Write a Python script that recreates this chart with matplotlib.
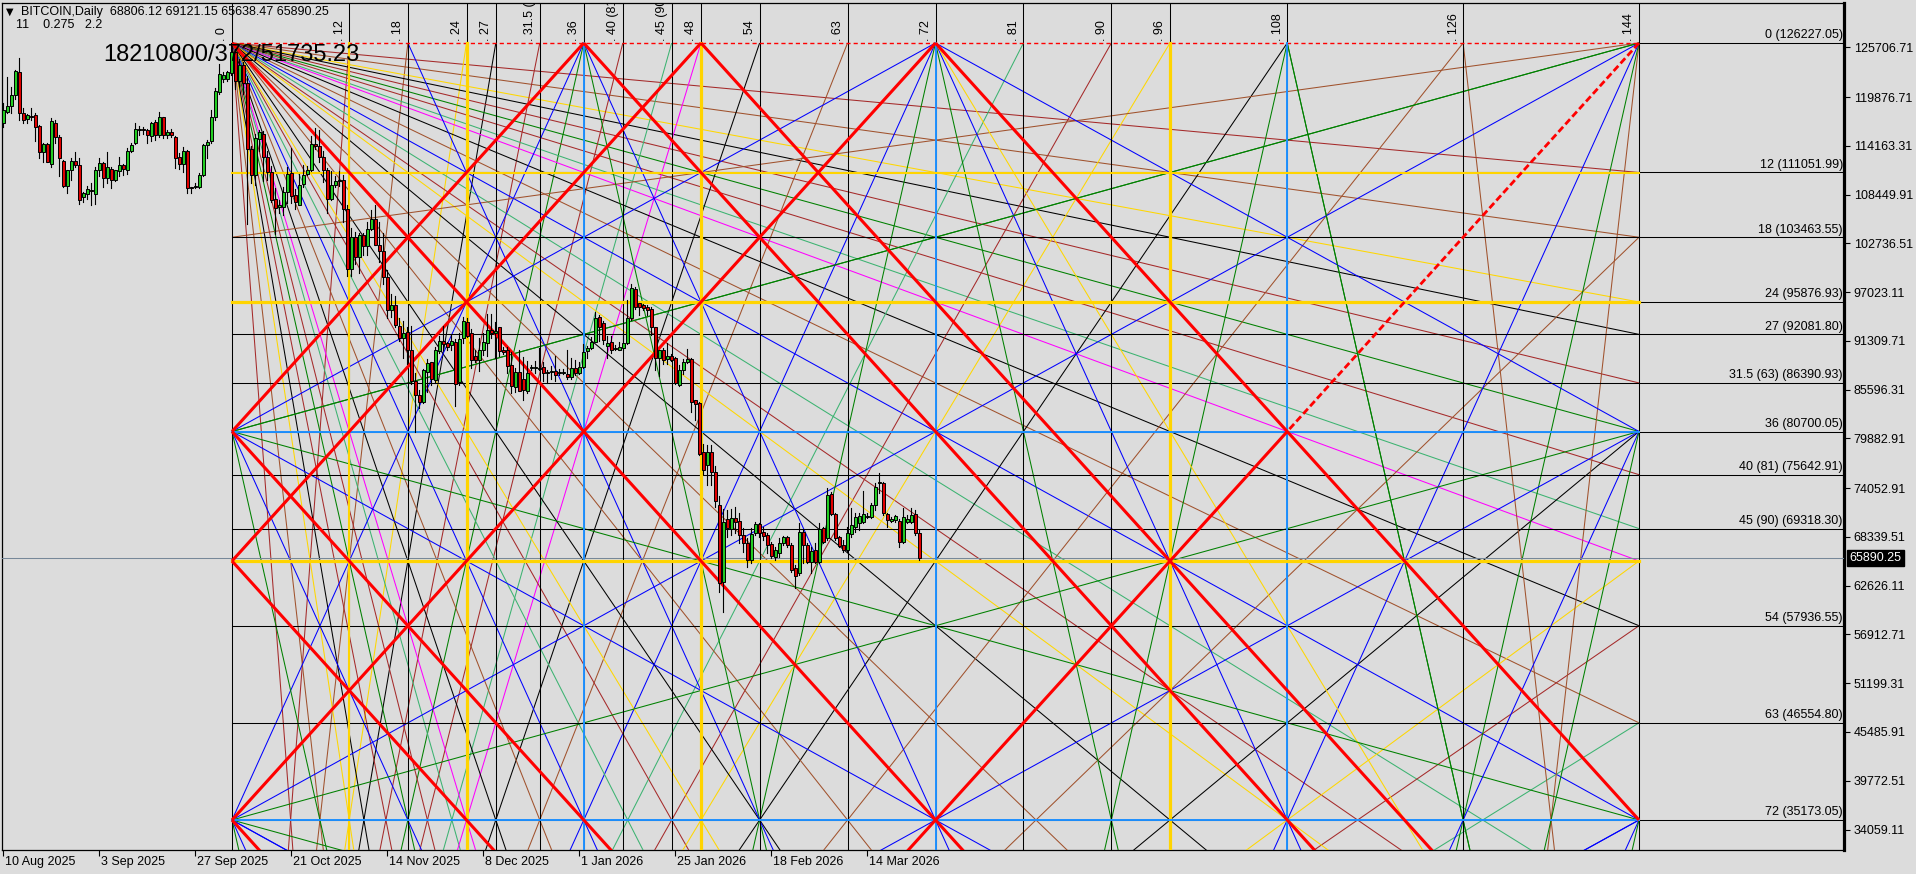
import matplotlib
matplotlib.use("Agg")
import matplotlib.pyplot as plt
import matplotlib.transforms as mtrans

# ---- daily candles from 10 Aug 2025 (thousand USD) ----
opens_k = [116.8, 118.1, 118.8, 120.1, 122.8, 118.0, 117.3, 117.7, 117.8, 116.5,
           113.5, 114.4, 112.0, 116.8, 115.2, 112.4, 109.5, 111.3, 112.4, 111.9,
           108.2, 108.5, 109.0, 108.5, 111.3, 112.2, 110.4, 111.5, 110.2, 111.2,
           111.9, 111.4, 113.6, 114.5, 116.0, 116.1, 116.0, 115.3, 117.0, 115.4,
           117.5, 115.4, 115.8, 115.2, 112.9, 112.0, 113.6, 109.3, 109.3, 109.4,
           110.8, 114.3, 114.7, 117.5, 120.5, 122.0, 122.0, 122.7, 125.2, 121.8,
           123.6, 121.5, 113.8, 110.7, 115.0, 115.6, 112.9, 111.1, 107.9, 107.0,
           107.0, 108.8, 111.0, 108.4, 107.3, 109.7, 110.9, 111.4, 114.4, 114.1,
           112.9, 111.3, 107.9, 109.6, 110.0, 110.2, 106.8, 99.8, 103.5, 101.2,
           103.7, 102.4, 104.4, 105.6, 102.6, 101.8, 98.8, 94.9, 95.5, 93.1,
           91.7, 92.4, 90.3, 86.6, 85.0, 84.2, 87.7, 88.9, 86.7, 90.1,
           91.3, 91.1, 90.8, 91.2, 86.5, 91.7, 93.5, 92.2, 89.5, 89.1,
           90.2, 91.1, 92.6, 92.3, 92.9, 90.2, 90.2, 88.5, 85.9, 87.7,
           86.9, 85.4, 88.1, 88.1, 88.0, 88.2, 87.6, 87.7, 87.8, 87.5,
           87.5, 87.4, 87.1, 88.1, 87.5, 88.2, 90.1, 90.5, 91.2, 94.1,
           93.4, 90.7, 91.2, 90.4, 90.3, 90.5, 91.1, 94.0, 97.4, 95.7,
           95.5, 95.3, 95.1, 92.9, 89.3, 90.2, 89.2, 89.5, 89.3, 86.2,
           87.9, 88.9, 89.2, 84.4, 84.0, 78.3, 76.8, 78.3, 76.0, 72.1,
           63.1, 70.40, 69.23, 70.52, 70.24, 68.56, 67.66, 65.63, 68.76, 69.81,
           68.95, 68.56, 67.51, 66.02, 66.49, 67.59, 68.29, 67.39, 64.66, 64.07,
           68.88, 67.39, 65.44, 66.80, 65.44, 69.34, 68.17, 73.37, 70.99, 68.37,
           67.39, 66.80, 68.68, 69.54, 70.01, 70.13, 70.71, 70.71, 72.08, 74.62,
           74.70, 70.99, 70.24, 70.32, 70.24, 67.78, 70.05, 70.13, 70.99, 68.806]
highs_k = [119.2, 122.3, 121.1, 123.1, 124.5, 118.6, 117.9, 118.6, 118.0, 116.6,
           114.5, 114.5, 117.4, 117.2, 115.4, 112.5, 111.3, 112.7, 113.4, 112.7,
           108.8, 109.5, 109.8, 111.7, 112.7, 112.3, 113.4, 111.7, 111.4, 112.9,
           112.1, 113.9, 114.5, 116.9, 116.5, 116.4, 116.2, 117.0, 117.2, 118.1,
           117.6, 116.0, 116.1, 115.3, 113.3, 114.0, 113.7, 109.4, 109.8, 111.0,
           114.4, 114.9, 118.4, 120.9, 123.8, 122.8, 122.9, 126.2, 125.5, 124.3,
           124.0, 122.4, 114.2, 115.6, 116.0, 115.9, 113.6, 111.8, 109.2, 107.8,
           109.4, 111.7, 113.9, 109.1, 110.9, 111.9, 111.8, 115.3, 116.3, 116.0,
           113.6, 111.6, 111.2, 110.6, 111.2, 110.8, 107.2, 104.5, 104.1, 104.0,
           104.0, 105.2, 106.6, 107.3, 105.3, 104.0, 99.6, 96.8, 96.6, 94.0,
           93.7, 92.9, 93.1, 87.5, 85.6, 88.0, 89.2, 88.9, 90.6, 91.9,
           93.1, 91.2, 92.0, 91.5, 92.3, 94.1, 94.0, 92.7, 90.2, 91.7,
           92.3, 94.5, 94.5, 93.5, 92.9, 90.6, 90.6, 90.0, 88.1, 90.3,
           89.4, 89.0, 88.5, 89.0, 90.5, 88.9, 87.9, 88.4, 89.5, 88.0,
           88.0, 90.3, 89.3, 89.1, 88.8, 90.9, 90.7, 91.8, 94.7, 94.4,
           93.7, 91.9, 91.9, 90.8, 91.2, 92.3, 96.1, 98.0, 97.6, 95.8,
           95.6, 95.5, 95.3, 92.9, 90.3, 90.5, 91.1, 89.8, 89.4, 88.5,
           89.2, 90.4, 89.3, 84.4, 84.2, 79.2, 79.1, 79.1, 76.6, 73.2,
           71.6, 71.49, 71.57, 71.88, 71.10, 69.34, 68.17, 69.34, 70.13, 70.01,
           69.50, 68.76, 67.78, 67.20, 68.17, 68.45, 68.45, 67.59, 65.05, 69.93,
           69.15, 67.59, 67.20, 67.59, 69.93, 69.54, 74.03, 73.64, 71.10, 68.45,
           67.98, 69.54, 71.69, 71.10, 71.10, 73.76, 71.10, 72.27, 74.62, 75.87,
           74.81, 71.10, 70.71, 70.91, 70.40, 71.69, 70.91, 71.69, 71.49, 69.121]
lows_k = [116.4, 118.0, 118.0, 119.7, 117.2, 116.8, 116.9, 117.2, 114.7, 112.7,
          112.3, 112.3, 111.7, 114.5, 110.6, 109.4, 108.6, 110.2, 111.7, 107.4,
          107.6, 108.0, 107.2, 107.4, 110.6, 109.4, 109.8, 109.2, 110.1, 110.6,
          110.8, 110.9, 113.5, 114.4, 115.4, 115.6, 114.5, 114.7, 114.9, 115.2,
          115.1, 115.1, 115.2, 111.6, 111.5, 111.1, 108.6, 108.6, 109.2, 109.2,
          110.6, 112.7, 114.5, 117.2, 120.3, 121.7, 121.8, 122.5, 120.8, 121.2,
          120.3, 105.0, 109.8, 109.6, 113.6, 110.0, 110.2, 107.6, 103.9, 106.3,
          106.1, 107.5, 107.5, 106.8, 107.2, 109.3, 110.8, 111.2, 113.8, 112.3,
          109.9, 106.3, 107.8, 109.4, 109.5, 105.3, 98.9, 98.9, 100.3, 99.3,
          101.4, 101.4, 104.3, 102.5, 100.6, 98.0, 94.0, 94.1, 93.0, 91.3,
          89.3, 88.6, 86.3, 80.6, 83.5, 84.0, 85.3, 86.2, 86.4, 89.9,
          90.2, 90.2, 90.3, 83.7, 86.2, 91.1, 91.8, 88.1, 88.9, 87.8,
          89.7, 89.6, 91.7, 89.3, 89.5, 89.8, 87.6, 85.2, 85.3, 85.4,
          84.4, 85.2, 87.9, 87.6, 87.9, 86.6, 86.4, 86.9, 86.6, 87.3,
          87.4, 86.8, 86.9, 87.3, 87.4, 88.1, 89.3, 90.4, 91.2, 91.3,
          90.9, 89.3, 89.9, 90.2, 90.2, 90.2, 91.0, 93.8, 95.0, 94.3,
          94.9, 94.4, 92.0, 87.9, 87.2, 88.6, 88.6, 89.0, 86.3, 86.0,
          87.4, 88.7, 83.0, 82.0, 77.9, 75.7, 74.4, 74.4, 71.9, 61.9,
          59.6, 68.37, 68.56, 68.76, 67.59, 66.61, 64.85, 65.32, 68.56, 68.37,
          68.00, 66.41, 65.83, 65.63, 66.02, 67.39, 67.20, 64.27, 62.31, 63.87,
          65.24, 65.24, 64.07, 65.24, 65.24, 67.59, 67.98, 70.91, 67.98, 67.20,
          66.61, 66.61, 68.37, 68.95, 69.15, 69.93, 70.52, 70.52, 71.49, 73.45,
          70.91, 69.54, 70.13, 70.13, 67.20, 67.59, 69.93, 69.93, 68.56, 65.638]
closes_k = [118.4, 118.8, 120.1, 122.9, 118.0, 117.2, 117.8, 117.6, 116.4, 113.5,
            114.4, 112.3, 117.1, 115.2, 112.8, 109.5, 111.3, 112.4, 111.9, 107.8,
            108.6, 109.1, 108.9, 111.4, 112.2, 110.4, 111.7, 110.2, 111.3, 111.9,
            111.5, 113.6, 114.3, 116.2, 116.1, 116.0, 115.4, 116.8, 115.5, 117.5,
            115.4, 115.8, 115.4, 112.8, 112.0, 113.6, 109.2, 109.2, 109.5, 110.8,
            114.3, 114.6, 117.5, 120.6, 122.6, 122.5, 122.8, 125.2, 121.8, 123.6,
            121.5, 113.8, 110.7, 115.1, 115.8, 112.9, 111.1, 107.8, 106.9, 107.2,
            108.8, 110.9, 108.3, 107.6, 109.6, 110.8, 111.4, 114.4, 114.1, 112.9,
            111.3, 107.9, 109.6, 110.0, 110.2, 106.8, 99.8, 103.5, 101.2, 103.7,
            102.4, 104.4, 105.6, 102.6, 101.8, 98.8, 94.9, 95.5, 93.2, 91.7,
            92.3, 90.3, 86.6, 85.0, 84.2, 87.9, 88.7, 86.9, 90.2, 91.3,
            90.9, 90.6, 91.3, 86.3, 91.5, 93.6, 91.9, 89.1, 89.1, 90.2,
            91.2, 92.6, 92.3, 92.5, 90.1, 90.0, 88.4, 86.0, 87.7, 85.4,
            85.6, 87.5, 88.1, 88.1, 88.0, 87.5, 87.6, 87.7, 87.3, 87.5,
            87.5, 87.1, 88.1, 87.5, 88.2, 90.0, 90.5, 91.2, 94.0, 93.0,
            91.4, 91.1, 90.2, 90.4, 90.6, 91.1, 94.0, 97.5, 95.3, 95.3,
            95.2, 94.9, 93.0, 89.3, 90.2, 89.1, 89.5, 89.1, 86.4, 87.9,
            88.9, 89.2, 84.2, 83.9, 78.1, 76.2, 78.3, 76.0, 72.5, 62.9,
            70.1, 69.34, 70.52, 70.13, 68.56, 67.59, 65.63, 68.68, 69.81, 68.76,
            68.45, 67.39, 66.10, 66.80, 67.59, 68.29, 67.39, 64.46, 63.76, 68.88,
            67.39, 65.44, 66.73, 65.44, 69.23, 67.78, 73.25, 71.02, 68.17, 67.31,
            66.80, 68.76, 69.74, 70.63, 70.79, 70.99, 70.79, 72.08, 74.23, 74.81,
            71.10, 70.32, 70.44, 70.79, 67.78, 70.63, 70.44, 70.91, 68.76, 65.890]

date_ticks = [0, 24, 48, 72, 96, 120, 144, 168, 192, 216]
date_labels = ["10 Aug 2025", "3 Sep 2025", "27 Sep 2025", "21 Oct 2025", "14 Nov 2025",
               "8 Dec 2025", "1 Jan 2026", "25 Jan 2026", "18 Feb 2026", "14 Mar 2026"]
price_ticks = [125706.71, 119876.71, 114163.31, 108449.91, 102736.51, 97023.11, 91309.71,
               85596.31, 79882.91, 74052.91, 68339.51, 62626.11, 56912.71, 51199.31,
               45485.91, 39772.51, 34059.11]
last_price = 65890.25

# Gann square: price levels (units) and their prices
level_units = [0, 12, 18, 24, 27, 31.5, 36, 40, 45, 54, 63, 72]
level_names = ["0", "12", "18", "24", "27", "31.5 (63)", "36", "40 (81)", "45 (90)", "54", "63", "72"]
level_prices = [126227.05, 111051.99, 103463.55, 95876.93, 92081.80, 86390.93, 80700.05,
                75642.91, 69318.30, 57936.55, 46554.80, 35173.05]
time_units = [0, 12, 18, 24, 27, 31.5, 36, 40, 45, 48, 54, 63, 72, 81, 90, 96, 108, 126, 144]
time_names = ["0", "12", "18", "24", "27", "31.5 (63)", "36", "40 (81)", "45 (90)", "48", "54",
              "63", "72", "81", "90", "96", "108", "126", "144"]

# ---- geometry (pixels of the 1916x874 MT4 screenshot) ----
W, H = 1916, 874
BG = "#dcdcdc"
P0 = 126227.05
PU = (126227.05 - 35173.05) / 72.0
T0, TU = 57.25, 2.44271          # bar of time 0, bars per gann unit
PX_PRICE = 91054.0 / 777.0       # price per pixel

def gx(t):
    return T0 + TU * t

def gy(p):
    return P0 - PU * p

fig = plt.figure(figsize=(W / 100, H / 100), dpi=100, facecolor=BG)
ax = fig.add_axes([2 / W, (H - 850) / H, 1842 / W, 847 / H])
ax.set_facecolor(BG)
ax.set_xlim(-0.25, 460.25)
ax.set_ylim(P0 - 807 * PX_PRICE, P0 + 40 * PX_PRICE)

FONT = "Liberation Sans"
COL = {12: "#a52a2a", 18: "#a0522d", 24: "#ffd700", 27: "black", 31.5: "#a52a2a", 36: "#008000",
       40: "#a52a2a", 45: "#3cb371", 48: "#ff00ff", 54: "black", 63: "#a0522d", 72: "#0000ff",
       81: "#3cb371", 90: "#a52a2a", 96: "#ffd700", 108: "black", 126: "#a0522d", 144: "red"}
GOLD, DBLUE = "#ffd400", "#1e90ff"
THIN = 0.75


def ray(t0, p0, sx, slope, color, lw=THIN, ls="-", z=3, umax=1e9):
    ut = (144 - t0) if sx > 0 else t0
    if slope > 0:
        up = (160 - p0) / slope
    elif slope < 0:
        up = p0 / -slope
    else:
        up = 1e9
    u = min(ut, up, umax)
    t1, p1 = t0 + sx * u, p0 + slope * u
    ax.plot([gx(t0), gx(t1)], [gy(p0), gy(p1)], color=color, lw=lw, ls=ls, zorder=z,
            solid_capstyle="butt")


divs = [d for d in time_units if 0 < d < 144]

# full fans from the two left corners of the 144 square
for d in divs:
    ray(0, 0, 1, d / 144, COL[d])
    ray(0, 0, 1, 144 / d, COL[d])
    ray(0, 144, 1, -144 / d, COL[d])
    ray(0, 144, 1, -d / 144, COL[d])
# small fans from the two right corners
for d in [18, 36, 72]:
    ray(144, 0, -1, d / 144, COL[d])
    ray(144, 0, -1, 144 / d, COL[d])
    ray(144, 144, -1, -144 / d, COL[d])
    ray(144, 144, -1, -d / 144, COL[d])
# fans from inner nodes
for sx in (-1, 1):
    ray(72, 0, sx, 0.5, "#0000ff")
    ray(72, 0, sx, 4, "#008000")
    ray(36, 0, sx, 2, "#0000ff")
    ray(108, 0, sx, 4, "#008000")
ray(36, 0, 1, 4, "#008000")
ray(18, 0, 1, 2, "#0000ff")
ray(72, 0, 1, 1.5, "#ffd700")
for p0 in (36, 72):
    ray(0, p0, 1, 0.25, "#008000")
    ray(0, p0, 1, -0.25, "#008000")
    ray(0, p0, 1, 0.5, "#0000ff")
    ray(0, p0, 1, 2, "#0000ff")
    ray(0, p0, 1, 4, "#008000")
    ray(144, p0, -1, 0.5, "#0000ff")
    ray(144, p0, -1, 2, "#0000ff")
    ray(144, p0, -1, 4, "#008000")

# red 1x1 lattice
for t0 in (0, 36, 48, 72):
    ray(t0, 0, 1, 1, "red", lw=2.2, z=4)
for t0 in (36, 48, 72):
    ray(t0, 0, -1, 1, "red", lw=2.2, z=4)
for p0 in (36, 48, 72):
    ray(0, p0, 1, 1, "red", lw=2.2, z=4)
ray(144, 0, -1, 1, "red", lw=2.0, ls=(0, (2.5, 1.2)), z=4, umax=36)
ray(108, 36, -1, 1, "red", lw=2.2, z=4)

# vertical time lines
yb, yt = ax.get_ylim()
for t, name in zip(time_units, time_names):
    x = gx(t)
    ax.plot([x, x], [yb, yt], color="black", lw=THIN, zorder=3.5)
    if t in (12,):
        ax.plot([x, x], [yb, P0], color=GOLD, lw=1.5, zorder=3.6)
    if t in (24, 48, 96):
        ax.plot([x, x], [yb, P0], color=GOLD, lw=2.3, zorder=3.6)
    if t in (36, 72, 108):
        ax.plot([x, x], [yb, P0], color=DBLUE, lw=1.4, zorder=3.6)
    ax.text(x - 0.9, P0 + 2 * PX_PRICE, ". " + name, rotation=90, ha="right", va="bottom",
            fontsize=9, family=FONT, color="black", clip_on=True, zorder=6)

# horizontal price levels
xl, xr = gx(0), ax.get_xlim()[1]
for u, name, pr in zip(level_units, level_names, level_prices):
    if u == 0:
        ax.plot([gx(0), gx(144)], [pr, pr], color="red", lw=1.0, ls=(0, (3, 2.2)), zorder=3.5)
        ax.plot([gx(144), xr], [pr, pr], color="black", lw=THIN, zorder=3.5)
    else:
        ax.plot([xl, xr], [pr, pr], color="black", lw=THIN, zorder=3.5)
    ax.text(xr - 0.3, pr + 1.5 * PX_PRICE, "%s (%.2f)" % (name, pr),
            ha="right", va="bottom", fontsize=9, family=FONT, zorder=6)
for u, c, w in [(12, GOLD, 1.5), (24, GOLD, 2.3), (48, GOLD, 2.3), (36, DBLUE, 1.4), (72, DBLUE, 1.4)]:
    ax.plot([gx(0), gx(144)], [gy(u), gy(u)], color=c, lw=w, zorder=3.6)

# last price line
ax.axhline(last_price, color="#778899", lw=THIN, zorder=3.4)

# candles
for i in range(len(closes_k)):
    o, h, l, c = opens_k[i] * 1000, highs_k[i] * 1000, lows_k[i] * 1000, closes_k[i] * 1000
    ax.plot([i, i], [l, h], color="black", lw=0.8, zorder=7)
    col = "#22cc22" if c >= o else "#e00000"
    hgt = max(abs(c - o), PX_PRICE)
    ax.bar(i, hgt, bottom=min(o, c), width=0.75, color=col, edgecolor="black", linewidth=0.7,
           zorder=8)

# axes styling
for s in ("left", "top", "bottom"):
    ax.spines[s].set_linewidth(0.9)
ax.spines["right"].set_linewidth(2.3)
ax.yaxis.tick_right()
ax.set_yticks(price_ticks)
ax.set_yticklabels(["%.2f" % v for v in price_ticks], family=FONT, fontsize=9)
ax.tick_params(axis="y", direction="out", length=4, width=0.8, pad=3)
ax.set_xticks(date_ticks)
ax.set_xticklabels([])
ax.tick_params(axis="x", direction="out", length=4, width=0.8)
trx = mtrans.blended_transform_factory(ax.transData, fig.transFigure)
for b, lab in zip(date_ticks, date_labels):
    fig.text(b + 0.4, (H - 862) / H, lab, transform=trx, fontsize=9, family=FONT,
             ha="left", va="center")

ax.text(1.003, last_price, "%.2f" % last_price, transform=ax.get_yaxis_transform(),
        color="white", fontsize=9, family=FONT, ha="left", va="center", zorder=10,
        bbox=dict(facecolor="black", edgecolor="black", pad=1.5), clip_on=False)

# header texts
fig.text(6 / W, 1 - 12 / H, "\u25bc", fontsize=7, family="DejaVu Sans", va="center")
fig.text(21 / W, 1 - 12 / H, "BITCOIN,Daily  68806.12 69121.15 65638.47 65890.25",
         fontsize=9, family=FONT, va="center")
fig.text(16 / W, 1 - 25 / H, "11    0.275   2.2", fontsize=9, family=FONT, va="center")
fig.text(103 / W, 1 - 55 / H, "18210800/372/51735.23", fontsize=17, family=FONT,
         va="center", zorder=9)

fig.savefig("out.png", dpi=100, facecolor=BG)
